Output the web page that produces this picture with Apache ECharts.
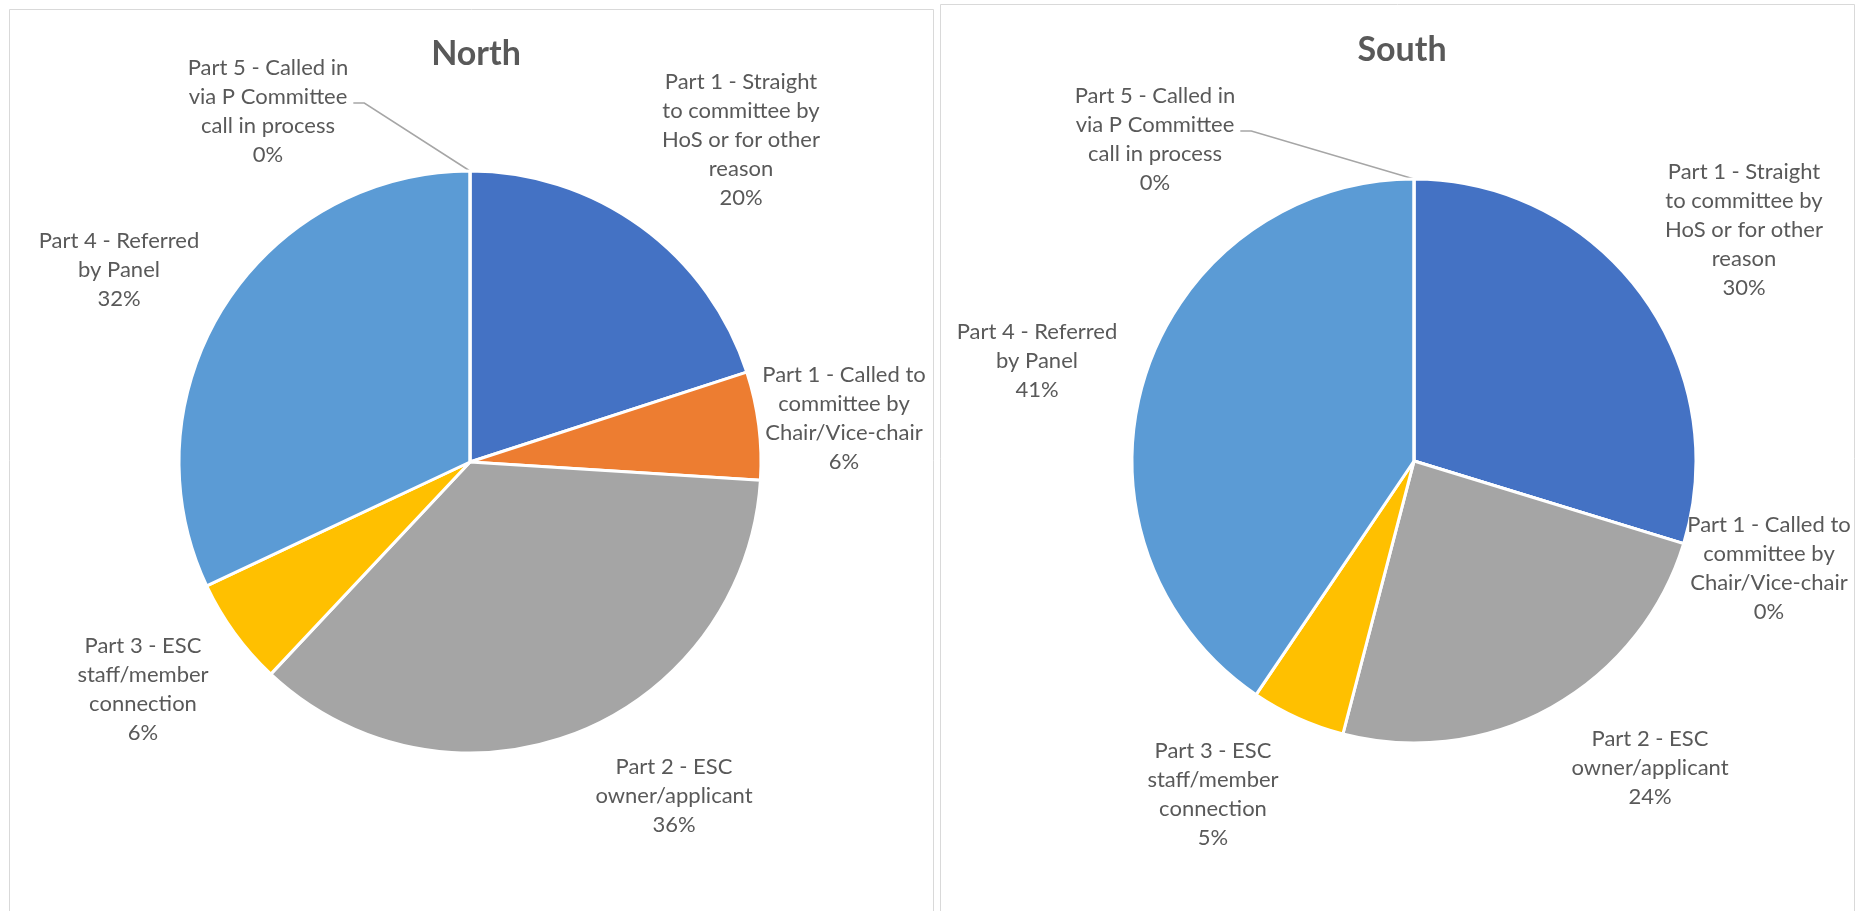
<!DOCTYPE html>
<html><head><meta charset="utf-8">
<script src="https://cdn.jsdelivr.net/npm/echarts@6/dist/echarts.min.js"></script>
<style>html,body{margin:0;padding:0;background:#fff;overflow:hidden}#c{width:1856px;height:911px}</style>
</head><body><div id="c"></div>
<script>
// ---- data ----
const categories = [
  'Part 1 - Straight to committee by HoS or for other reason',
  'Part 1 - Called to committee by Chair/Vice-chair',
  'Part 2 - ESC owner/applicant',
  'Part 3 - ESC staff/member connection',
  'Part 4 - Referred by Panel',
  'Part 5 - Called in via P Committee call in process'
];
const labelText = [
  'Part 1 - Straight\nto committee by\nHoS or for other\nreason',
  'Part 1 - Called to\ncommittee by\nChair/Vice-chair',
  'Part 2 - ESC\nowner/applicant',
  'Part 3 - ESC\nstaff/member\nconnection',
  'Part 4 - Referred\nby Panel',
  'Part 5 - Called in\nvia P Committee\ncall in process'
];
const chartTitles = ['North', 'South'];
const northValues = [10, 3, 18, 3, 16, 0];
const southValues = [11, 0, 9, 2, 15, 0];

// ---- layout / style ----
const colors = ['#4472C4', '#ED7D31', '#A5A5A5', '#FFC000', '#5B9BD5', '#70AD47'];
const panels = [
  { center: [470, 462], r: 291, titleX: 471, titleY: 52, box: [9.5, 9.5, 924, 1000] },
  { center: [1414, 461], r: 282, titleX: 1397, titleY: 48, box: [940.5, 4.5, 914, 1000] }
];
const labelOffsets = [
  [[271, -322], [374, -44], [204, 334], [-327, 227], [-351, -192], [-202, -351]],
  [[330, -231], [355, 107], [236, 307], [-201, 333], [-377, -100], [-259, -322]]
];
const leaderIndex = 5;
const textColor = '#595959';
const FONT = 'Lato';

function makeLayout(s) {
  return function (p) {
    const P = panels[s];
    const off = labelOffsets[s][p.dataIndex];
    const x = P.center[0] + off[0], y = P.center[1] + off[1];
    const res = { x: x, y: y, align: 'center', verticalAlign: 'middle' };
    if (p.dataIndex === leaderIndex) {
      const right = x + p.labelRect.width / 2;
      res.labelLinePoints = [[right + 5, y - 8], [right + 16, y - 8], [P.center[0], P.center[1] - P.r]];
    }
    return res;
  };
}

function makeSeries(s, values) {
  const P = panels[s];
  return {
    type: 'pie',
    center: P.center,
    radius: [0, P.r],
    startAngle: 90,
    clockwise: true,
    percentPrecision: 0,
    avoidLabelOverlap: false,
    animation: false,
    itemStyle: { borderColor: '#fff', borderWidth: 3 },
    label: {
      show: true, position: 'outside',
      color: textColor, fontFamily: FONT, fontSize: 22, lineHeight: 29,
      formatter: function (p) { return labelText[p.dataIndex] + '\n' + p.percent + '%'; }
    },
    labelLine: { show: false, lineStyle: { color: '#A6A6A6', width: 1.5 } },
    labelLayout: makeLayout(s),
    emphasis: { disabled: true },
    data: values.map(function (v, i) {
      const d = { name: categories[i], value: v, itemStyle: { color: colors[i] } };
      if (i === leaderIndex) d.labelLine = { show: true, smooth: false };
      return d;
    })
  };
}

const chart = echarts.init(document.getElementById('c'), null, { renderer: 'canvas' });
chart.setOption({
  backgroundColor: '#fff',
  title: panels.map(function (P, s) {
    return {
      text: chartTitles[s], left: P.titleX, top: P.titleY - 20, textAlign: 'center',
      textStyle: { color: textColor, fontFamily: FONT, fontWeight: 'bold', fontSize: 34 }
    };
  }),
  graphic: panels.map(function (P) {
    return {
      type: 'rect', silent: true, z: -1,
      shape: { x: P.box[0], y: P.box[1], width: P.box[2], height: P.box[3] },
      style: { fill: 'none', stroke: '#D9D9D9', lineWidth: 1 }
    };
  }),
  series: [makeSeries(0, northValues), makeSeries(1, southValues)]
});
</script>
</body></html>
